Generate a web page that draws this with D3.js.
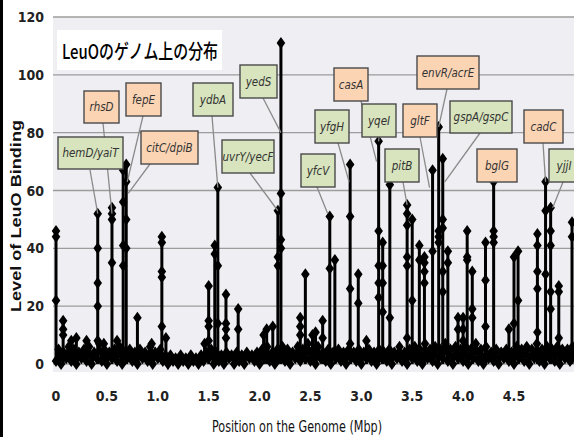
<!DOCTYPE html>
<html>
<head>
<meta charset="utf-8">
<script src="https://cdn.jsdelivr.net/npm/d3@7"></script>
<style>
  body { margin: 0; background: #fff; }
  svg { display: block; }
</style>
</head>
<body>
<div id="chart"></div>
<script>
// tick labels
var xTicks = [0, 0.5, 1.0, 1.5, 2.0, 2.5, 3.0, 3.5, 4.0, 4.5];
var yTicks = [0, 20, 40, 60, 80, 100, 120];

// background signal, one value every 0.025 Mbp from 0
var baseStep = 0.025;
var baseVals = [
  1,5,0,4,2,6,1,5,0,4,2,5,1,6,0,4,2,7,1,5,
  0,4,2,5,1,6,0,4,2,5,1,4,0,5,2,4,1,6,0,4,
  2,5,1,3,0,3,1,2,0,3,1,2,0,3,1,2,0,3,1,4,
  2,5,0,4,1,3,0,4,2,3,0,4,1,3,0,4,2,3,1,4,
  0,5,2,6,1,4,0,5,2,6,1,5,0,4,2,6,1,5,2,7,
  1,5,0,6,2,4,1,5,0,4,2,5,1,4,0,5,2,4,1,5,
  0,4,2,5,1,4,0,5,2,4,1,5,0,4,2,6,1,4,0,5,
  2,6,1,5,0,7,2,5,1,6,0,5,2,7,1,5,0,6,2,5,
  1,6,0,5,2,7,1,5,0,6,2,4,1,5,0,4,2,5,1,4,
  0,6,2,5,1,6,0,5,2,7,1,5,0,6,2,5,1,6,0,5,
  2,5,1,6,2
];

// binding peaks: position (Mbp) and the levels marked along each stem
var peakPos = [0.00, 0.07, 0.15, 0.20, 0.30, 0.41, 0.47, 0.55, 0.60, 0.66, 0.69, 0.80,
  0.94, 1.04, 1.08, 1.46, 1.50, 1.56, 1.59, 1.67, 1.79, 2.04, 2.07, 2.13, 2.18, 2.21,
  2.40, 2.45, 2.52, 2.55, 2.62, 2.69, 2.74, 2.89, 2.97, 3.05, 3.17, 3.21, 3.28, 3.45,
  3.50, 3.57, 3.62, 3.70, 3.76, 3.80, 3.85, 3.95, 4.00, 4.04, 4.09, 4.22, 4.30, 4.45,
  4.50, 4.54, 4.73, 4.81, 4.86, 4.94, 5.07];
var peakVals = [
  [22, 44, 46], [10, 12, 15], [8], [9], [8], [8, 20, 28, 40, 52], [7], [35, 50, 52, 54], [8],
  [34, 41, 56, 67], [40, 50, 63, 69], [16],
  [7], [13, 30, 32, 42, 44], [9], [7], [8, 13, 15, 27], [38, 41], [14, 34, 61], [9, 12, 14, 24],
  [12, 19], [10], [12], [13], [34, 37, 53], [40, 43, 59, 111],
  [10, 13, 16], [31], [10], [11], [9, 15], [33, 51], [36], [7, 26, 51, 69], [21, 31], [8],
  [23, 28, 34, 46, 77], [18, 28, 34, 42], [16, 62], [9, 34, 37, 48, 52, 55],
  [22, 50], [36, 41], [28, 32, 35, 37], [39, 67], [42, 44, 46, 82], [25, 32, 47, 50, 71],
  [35, 39], [12, 16], [8, 12, 16], [36, 37, 46], [16, 19, 32], [13, 29, 42], [42, 44, 46, 63],
  [12], [14, 37], [22, 39], [11, 26, 32, 41, 45], [31, 53, 63], [19, 25, 41, 46, 54],
  [9, 25, 27], [44, 49]
];

// gene labels, kind (o = orange, g = green) and the point each one marks
var labelNames = ["hemD/yaiT", "rhsD", "fepE", "citC/dpiB", "ydbA", "yedS", "uvrY/yecF",
  "yfcV", "yfgH", "casA", "yqeI", "pitB", "gltF", "envR/acrE", "gspA/gspC", "bglG", "cadC", "yjjI"];
var labelKind = ["g", "o", "o", "o", "g", "g", "g", "g", "g", "o", "g", "g", "o", "o", "g", "o", "o", "g"];
var labelTargetPos = [0.41, 0.55, 0.70, 0.71, 1.59, 2.21, 2.18, 2.67, 2.88, 3.15, 3.17, 3.45,
  3.67, 3.76, 3.82, 4.30, 4.81, 4.88];
var labelTargetVal = [52, 52, 63, 59, 61, 80, 53, 52, 63, 70, 77, 55, 61, 82, 63, 63, 63, 54];

// box layout in pixels: x, y, w, h, leader start x, leader start y
var boxLayout = [
  [58, 137, 65, 32, 90, 170], [84, 91, 35, 32, 103, 123], [126, 83, 35, 33, 143, 116],
  [141, 131, 57, 33, 150, 164], [193, 83, 40, 33, 212, 116], [240, 65, 37, 33, 263, 98],
  [222, 140, 52, 33, 250, 173], [301, 154, 34, 33, 317, 187], [315, 110, 34, 33, 338, 143],
  [334, 68, 34, 33, 361, 101], [362, 104, 34, 33, 379, 137], [385, 149, 34, 33, 403, 182],
  [403, 104, 34, 33, 420, 137], [417, 56, 62, 33, 447, 89], [450, 101, 62, 32, 480, 133],
  [477, 149, 40, 33, 494, 182], [524, 110, 39, 33, 543, 143], [549, 149, 30, 33, 563, 182]
];

var W = 574, H = 437;
var plotLeft = 53, plotRight = 574;

var svg = d3.select("#chart").append("svg")
  .attr("width", W).attr("height", H);

var x = d3.scaleLinear().domain([0, 4.5]).range([56, 514]);
var y = d3.scaleLinear().domain([0, 120]).range([364, 17]);

var narrow = "'Liberation Sans Narrow', 'DejaVu Sans Condensed', 'Liberation Sans', sans-serif";

// left frame
svg.append("rect").attr("x", 0).attr("y", 0).attr("width", 3).attr("height", H).attr("fill", "#000");

// plot background
svg.append("rect")
  .attr("x", plotLeft).attr("y", y(120))
  .attr("width", plotRight - plotLeft).attr("height", 372 - y(120))
  .attr("fill", "#efeff3");

// grid
svg.append("g").selectAll("line")
  .data(yTicks)
  .enter().append("line")
  .attr("x1", plotLeft).attr("x2", plotRight)
  .attr("y1", d => y(d)).attr("y2", d => y(d))
  .attr("stroke", "#9c9c9c").attr("stroke-width", 1.4);

// y tick labels
svg.append("g").selectAll("text")
  .data(yTicks)
  .enter().append("text")
  .attr("x", 44).attr("y", d => y(d) + 5)
  .attr("text-anchor", "end")
  .style("font-family", narrow).style("font-size", "14px").style("font-weight", "bold")
  .attr("fill", "#222")
  .text(d => d);

// x tick labels
svg.append("g").selectAll("text")
  .data(xTicks)
  .enter().append("text")
  .attr("x", d => x(d)).attr("y", 401)
  .attr("text-anchor", "middle")
  .style("font-family", narrow).style("font-size", "14px").style("font-weight", "bold")
  .attr("fill", "#222")
  .text(d => d === 0 ? "0" : d3.format(".1f")(d));

// axis titles
svg.append("text")
  .attr("transform", "translate(21,216) rotate(-90)")
  .attr("text-anchor", "middle")
  .attr("textLength", 192).attr("lengthAdjust", "spacingAndGlyphs")
  .style("font-family", "'Liberation Sans', Arial, sans-serif")
  .style("font-size", "14px").style("font-weight", "bold")
  .attr("fill", "#111")
  .text("Level of LeuO Binding");

svg.append("text")
  .attr("x", 297).attr("y", 432)
  .attr("text-anchor", "middle")
  .attr("textLength", 170).attr("lengthAdjust", "spacingAndGlyphs")
  .style("font-family", narrow).style("font-size", "16px")
  .attr("fill", "#111")
  .text("Position on the Genome (Mbp)");

// markers
var diamond = "M0,-6L4.3,0L0,6L-4.3,0Z";

// background signal line
var basePts = baseVals.map((v, i) => [i * baseStep, v]);
var line = d3.line().x(d => x(d[0])).y(d => y(d[1]));
svg.append("path")
  .datum(basePts)
  .attr("d", line)
  .attr("fill", "none").attr("stroke", "#000").attr("stroke-width", 3.5);
svg.append("g").selectAll("path")
  .data(basePts)
  .enter().append("path")
  .attr("d", diamond)
  .attr("transform", d => "translate(" + x(d[0]) + "," + y(d[1]) + ")")
  .attr("fill", "#000");

// peak stems
var peaks = peakPos.map((p, i) => ({pos: p, vals: peakVals[i]}));
svg.append("g").selectAll("line")
  .data(peaks)
  .enter().append("line")
  .attr("x1", d => x(d.pos)).attr("x2", d => x(d.pos))
  .attr("y1", y(0)).attr("y2", d => y(d3.max(d.vals)))
  .attr("stroke", "#000").attr("stroke-width", 3);

var peakPts = [];
peaks.forEach(d => d.vals.forEach(v => peakPts.push([d.pos, v])));
svg.append("g").selectAll("path")
  .data(peakPts)
  .enter().append("path")
  .attr("d", diamond)
  .attr("transform", d => "translate(" + x(d[0]) + "," + y(d[1]) + ")")
  .attr("fill", "#000");

// leader lines
svg.append("g").selectAll("line")
  .data(labelNames)
  .enter().append("line")
  .attr("x1", (d, i) => boxLayout[i][4]).attr("y1", (d, i) => boxLayout[i][5])
  .attr("x2", (d, i) => x(labelTargetPos[i])).attr("y2", (d, i) => y(labelTargetVal[i]))
  .attr("stroke", "#8a8a8a").attr("stroke-width", 1.3);

// label boxes
var boxes = svg.append("g").selectAll("g")
  .data(labelNames)
  .enter().append("g")
  .attr("transform", (d, i) => "translate(" + boxLayout[i][0] + "," + boxLayout[i][1] + ")");
boxes.append("rect")
  .attr("width", (d, i) => boxLayout[i][2]).attr("height", (d, i) => boxLayout[i][3])
  .attr("fill", (d, i) => labelKind[i] === "o" ? "#fbd4b4" : "#d7e4bd")
  .attr("stroke", "#4a4a4a").attr("stroke-width", 1.4);
boxes.append("text")
  .attr("x", (d, i) => boxLayout[i][2] / 2).attr("y", (d, i) => boxLayout[i][3] / 2 + 4)
  .attr("text-anchor", "middle")
  .style("font-family", narrow).style("font-size", "11.5px").style("font-style", "italic")
  .attr("fill", "#333")
  .text(d => d);

// title
svg.append("rect")
  .attr("x", 57).attr("y", 30).attr("width", 165).attr("height", 40)
  .attr("fill", "#fff");
svg.append("text")
  .attr("x", 62).attr("y", 59)
  .attr("textLength", 156).attr("lengthAdjust", "spacingAndGlyphs")
  .style("font-family", "'Noto Sans CJK JP', 'Noto Sans', sans-serif")
  .style("font-size", "20px").style("font-weight", "500")
  .attr("fill", "#000")
  .text("LeuOのゲノム上の分布");
</script>
</body>
</html>
